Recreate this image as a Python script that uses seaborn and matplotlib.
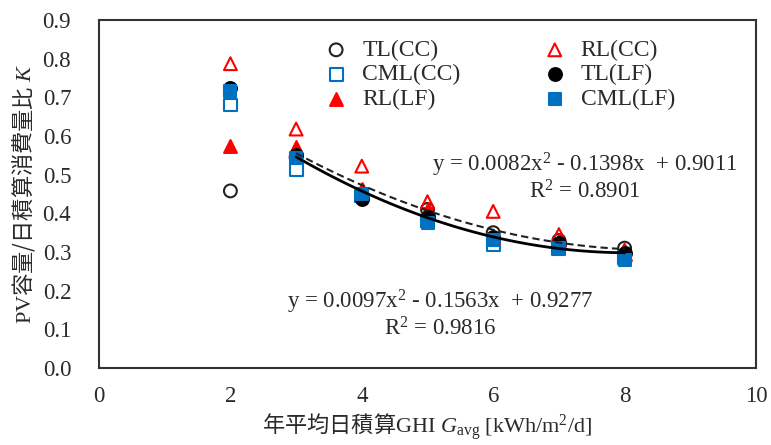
import numpy as np
import pandas as pd
import matplotlib
matplotlib.use("Agg")
import matplotlib.pyplot as plt
import seaborn as sns

# ---- data ----
x_vals = [2, 3, 4, 5, 6, 7, 8]
tl_cc = [0.458, 0.545, 0.443, 0.410, 0.350, 0.330, 0.310]
rl_cc = [0.787, 0.618, 0.522, 0.430, 0.405, 0.345, 0.305]
cml_cc = [0.680, 0.513, 0.445, 0.380, 0.320, 0.310, 0.285]
tl_lf = [0.724, 0.550, 0.437, 0.390, 0.340, 0.322, 0.298]
rl_lf = [0.575, 0.572, 0.463, 0.410, 0.340, 0.330, 0.295]
cml_lf = [0.716, 0.543, 0.450, 0.375, 0.330, 0.310, 0.280]

# trendline coefficients (as printed on chart)
cc_coef = [0.0082, -0.1398, 0.9011]
lf_coef = [0.0097, -0.1563, 0.9277]
trend_x_range = [3, 8]

x_ticks = [0, 2, 4, 6, 8, 10]
y_ticks = [0.0, 0.1, 0.2, 0.3, 0.4, 0.5, 0.6, 0.7, 0.8, 0.9]

sns.set_style("white")
plt.rcParams['font.family'] = ['Liberation Serif', 'Noto Sans CJK JP']
plt.rcParams['mathtext.fontset'] = 'custom'
plt.rcParams['mathtext.rm'] = 'Liberation Serif'
plt.rcParams['mathtext.it'] = 'Liberation Serif:italic'

fig = plt.figure(figsize=(7.71, 4.45), dpi=100)
ax = fig.add_axes([99/771, 1-368/445, (756-99)/771, (368-20)/445])

blue = '#0070C0'
red = '#FF0000'
txt = '#2a2a2a'

series = [
    ("TL(CC)", tl_cc, dict(marker='o', facecolor='none', edgecolor='#222222')),
    ("CML(CC)", cml_cc, dict(marker='s', facecolor='none', edgecolor=blue)),
    ("RL(LF)", rl_lf, dict(marker='^', facecolor=red, edgecolor=red)),
    ("RL(CC)", rl_cc, dict(marker='^', facecolor='none', edgecolor=red)),
    ("TL(LF)", tl_lf, dict(marker='o', facecolor='black', edgecolor='black')),
    ("CML(LF)", cml_lf, dict(marker='s', facecolor=blue, edgecolor=blue)),
]

# trend lines
tx = np.linspace(trend_x_range[0], trend_x_range[1], 100)
cc_df = pd.DataFrame({'x': tx, 'y': np.polyval(cc_coef, tx)})
lf_df = pd.DataFrame({'x': tx, 'y': np.polyval(lf_coef, tx)})

handles = []
for name, vals, st in series:
    df = pd.DataFrame({'x': x_vals, 'y': vals})
    sns.scatterplot(data=df, x='x', y='y', ax=ax, s=85, linewidth=1.5,
                    marker=st['marker'], facecolor=st['facecolor'],
                    edgecolor=st['edgecolor'], zorder=3, legend=False)
    h = ax.scatter([], [], s=85, marker=st['marker'], facecolor=st['facecolor'],
                   edgecolor=st['edgecolor'], linewidth=1.5)
    handles.append((h, name))

sns.lineplot(data=cc_df, x='x', y='y', ax=ax, color='#222222', lw=1.5,
             linestyle=(0, (3.5, 2)), zorder=4)
sns.lineplot(data=lf_df, x='x', y='y', ax=ax, color='black', lw=2.0, zorder=4)

ax.set_xlim(0, 10)
ax.set_ylim(0, 0.9)
ax.set_xticks(x_ticks)
ax.set_yticks(y_ticks)
ax.set_yticklabels([f"{v:.1f}" for v in y_ticks])
ax.tick_params(axis='both', direction='in', length=5, width=1.2,
               labelsize=16.5, colors='#333333', labelcolor=txt)
ax.tick_params(axis='y', pad=20)
ax.tick_params(axis='x', pad=13)
for sp in ax.spines.values():
    sp.set_color('#333333')
    sp.set_linewidth(1.5)

ax.set_xlabel("年平均日積算$\\mathrm{GHI}\\ G_{\\mathrm{avg}}\\ [\\mathrm{kWh/m^{2}/d}]$",
              fontsize=16, color=txt, labelpad=3, family='Noto Sans CJK JP')
ax.set_ylabel("$\\mathrm{PV}$容量/日積算消費量比 $K$", fontsize=16, color=txt,
              labelpad=4, family='Noto Sans CJK JP')

ax.text(7.40, 0.493, "y = 0.0082x$^{2}$ - 0.1398x  + 0.9011\nR$^{2}$ = 0.8901",
        ha='center', va='center', multialignment='center', fontsize=16.5,
        color=txt, linespacing=1.05)
ax.text(5.19, 0.140, "y = 0.0097x$^{2}$ - 0.1563x  + 0.9277\nR$^{2}$ = 0.9816",
        ha='center', va='center', multialignment='center', fontsize=16.5,
        color=txt, linespacing=1.05)

ax.legend([h for h, _ in handles], [n for _, n in handles], ncol=2,
          loc='upper left', bbox_to_anchor=(0.307, 1.005), frameon=False,
          fontsize=17, handletextpad=0.5, columnspacing=3.4,
          labelspacing=0.12, handlelength=1.2, labelcolor=txt)

fig.savefig("out.png", dpi=100)
